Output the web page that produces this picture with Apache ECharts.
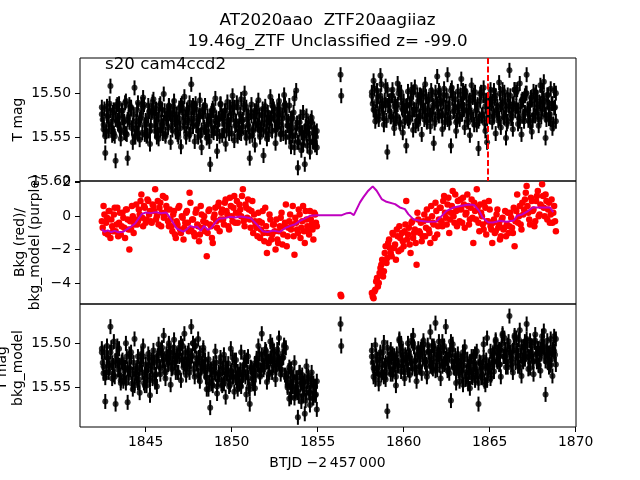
<!DOCTYPE html>
<html><head><meta charset="utf-8">
<script src="https://cdn.jsdelivr.net/npm/echarts@6/dist/echarts.min.js"></script>
<style>html,body{margin:0;padding:0;background:#fff}#c{width:640px;height:480px}</style>
</head><body><div id="c"></div>
<script>
// ---- data ----
const T1 = [1842.45,1842.55,1842.65,1842.75,1842.85,1842.95,1843.05,1843.15,1843.25,1843.35,1843.45,1843.55,1843.65,1843.75,1843.85,1843.95,1844.05,1844.15,1844.25,1844.35,1844.45,1844.55,1844.65,1844.75,1844.85,1844.95,1845.05,1845.15,1845.25,1845.35,1845.45,1845.55,1845.65,1845.75,1845.85,1845.95,1846.05,1846.15,1846.25,1846.35,1846.45,1846.55,1846.65,1846.75,1846.85,1846.95,1847.05,1847.15,1847.25,1847.35,1847.45,1847.55,1847.65,1847.75,1847.85,1847.95,1848.05,1848.15,1848.25,1848.35,1848.45,1848.55,1848.65,1848.75,1848.85,1848.95,1849.05,1849.15,1849.25,1849.35,1849.45,1849.55,1849.65,1849.75,1849.85,1849.95,1850.05,1850.15,1850.25,1850.35,1850.45,1850.55,1850.65,1850.75,1850.85,1850.95,1851.05,1851.15,1851.25,1851.35,1851.45,1851.55,1851.65,1851.75,1851.85,1851.95,1852.05,1852.15,1852.25,1852.35,1852.45,1852.55,1852.65,1852.75,1852.85,1852.95,1853.05,1853.15,1853.25,1853.35,1853.45,1853.55,1853.65,1853.75,1853.85,1853.95,1854.05,1854.15,1854.25,1854.35,1854.45,1854.55,1854.65,1854.75,1854.85,1854.95];
const T1B = [1842.50,1842.60,1842.70,1842.80,1842.90,1843.00,1843.10,1843.20,1843.30,1843.40,1843.50,1843.60,1843.70,1843.80,1843.90,1844.00,1844.10,1844.20,1844.30,1844.40,1844.50,1844.60,1844.70,1844.80,1844.90,1845.00,1845.10,1845.20,1845.30,1845.40,1845.50,1845.60,1845.70,1845.80,1845.90,1846.00,1846.10,1846.20,1846.30,1846.40,1846.50,1846.60,1846.70,1846.80,1846.90,1847.00,1847.10,1847.20,1847.30,1847.40,1847.50,1847.60,1847.70,1847.80,1847.90,1848.00,1848.10,1848.20,1848.30,1848.40,1848.50,1848.60,1848.70,1848.80,1848.90,1849.00,1849.10,1849.20,1849.30,1849.40,1849.50,1849.60,1849.70,1849.80,1849.90,1850.00,1850.10,1850.20,1850.30,1850.40,1850.50,1850.60,1850.70,1850.80,1850.90,1851.00,1851.10,1851.20,1851.30,1851.40,1851.50,1851.60,1851.70,1851.80,1851.90,1852.00,1852.10,1852.20,1852.30,1852.40,1852.50,1852.60,1852.70,1852.80,1852.90,1853.00,1853.10,1853.20,1853.30,1853.40,1853.50,1853.60,1853.70,1853.80,1853.90,1854.00,1854.10,1854.20,1854.30,1854.40,1854.50,1854.60,1854.70,1854.80,1854.90];
const T2 = [1858.15,1858.25,1858.35,1858.45,1858.55,1858.65,1858.75,1858.85,1858.95,1859.05,1859.15,1859.25,1859.35,1859.45,1859.55,1859.65,1859.75,1859.85,1859.95,1860.05,1860.15,1860.25,1860.35,1860.45,1860.55,1860.65,1860.75,1860.85,1860.95,1861.05,1861.15,1861.25,1861.35,1861.45,1861.55,1861.65,1861.75,1861.85,1861.95,1862.05,1862.15,1862.25,1862.35,1862.45,1862.55,1862.65,1862.75,1862.85,1862.95,1863.05,1863.15,1863.25,1863.35,1863.45,1863.55,1863.65,1863.75,1863.85,1863.95,1864.05,1864.15,1864.25,1864.35,1864.45,1864.55,1864.65,1864.75,1864.85,1864.95,1865.05,1865.15,1865.25,1865.35,1865.45,1865.55,1865.65,1865.75,1865.85,1865.95,1866.05,1866.15,1866.25,1866.35,1866.45,1866.55,1866.65,1866.75,1866.85,1866.95,1867.05,1867.15,1867.25,1867.35,1867.45,1867.55,1867.65,1867.75,1867.85,1867.95,1868.05,1868.15,1868.25,1868.35,1868.45,1868.55,1868.65,1868.75,1868.85];
const T2B = [1858.20,1858.30,1858.40,1858.50,1858.60,1858.70,1858.80,1858.90,1859.00,1859.10,1859.20,1859.30,1859.40,1859.50,1859.60,1859.70,1859.80,1859.90,1860.00,1860.10,1860.20,1860.30,1860.40,1860.50,1860.60,1860.70,1860.80,1860.90,1861.00,1861.10,1861.20,1861.30,1861.40,1861.50,1861.60,1861.70,1861.80,1861.90,1862.00,1862.10,1862.20,1862.30,1862.40,1862.50,1862.60,1862.70,1862.80,1862.90,1863.00,1863.10,1863.20,1863.30,1863.40,1863.50,1863.60,1863.70,1863.80,1863.90,1864.00,1864.10,1864.20,1864.30,1864.40,1864.50,1864.60,1864.70,1864.80,1864.90,1865.00,1865.10,1865.20,1865.30,1865.40,1865.50,1865.60,1865.70,1865.80,1865.90,1866.00,1866.10,1866.20,1866.30,1866.40,1866.50,1866.60,1866.70,1866.80,1866.90,1867.00,1867.10,1867.20,1867.30,1867.40,1867.50,1867.60,1867.70,1867.80,1867.90,1868.00,1868.10,1868.20,1868.30,1868.40,1868.50,1868.60,1868.70,1868.80];
const T_ISO = [1856.33, 1856.37];

// T mag (top panel): sets A (T1/T2), B (T1B/T2B), C (second reading at T1/T2)
const MAG1 = [15.524,15.541,15.568,15.515,15.536,15.492,15.548,15.519,15.577,15.531,
15.512,15.552,15.528,15.545,15.509,15.574,15.533,15.518,15.556,15.494,
15.540,15.511,15.553,15.526,15.505,15.547,15.535,15.514,15.558,15.522,
15.507,15.543,15.530,15.552,15.512,15.537,15.501,15.549,15.524,15.515,
15.556,15.528,15.509,15.544,15.533,15.517,15.561,15.522,15.504,15.546,
15.531,15.511,15.490,15.538,15.555,15.519,15.543,15.508,15.562,15.527,
15.514,15.551,15.535,15.581,15.520,15.545,15.506,15.566,15.529,15.512,
15.548,15.536,15.558,15.510,15.540,15.523,15.503,15.554,15.532,15.516,
15.545,15.507,15.538,15.500,15.551,15.526,15.574,15.513,15.541,15.559,
15.521,15.508,15.547,15.534,15.571,15.515,15.552,15.528,15.504,15.543,
15.518,15.557,15.533,15.509,15.546,15.525,15.502,15.550,15.537,15.514,
15.561,15.529,15.506,15.497,15.585,15.541,15.565,15.522,15.581,15.548,
15.535,15.567,15.528,15.556,15.545,15.562];
const MAG1B = [15.530,15.518,15.544,15.526,15.512,15.538,15.522,15.549,15.515,15.535,
15.541,15.520,15.533,15.511,15.547,15.527,15.516,15.540,15.524,15.550,
15.519,15.536,15.528,15.545,15.513,15.531,15.548,15.521,15.537,15.510,
15.526,15.518,15.542,15.514,15.533,15.546,15.520,15.529,15.539,15.523,
15.537,15.515,15.530,15.524,15.550,15.540,15.512,15.533,15.527,15.519,
15.522,15.543,15.517,15.529,15.512,15.535,15.527,15.548,15.521,15.539,
15.544,15.526,15.555,15.532,15.517,15.540,15.528,15.536,15.549,15.523,
15.529,15.520,15.542,15.531,15.516,15.546,15.525,15.537,15.511,15.540,
15.524,15.532,15.517,15.545,15.530,15.538,15.522,15.548,15.527,15.535,
15.536,15.525,15.541,15.518,15.530,15.544,15.522,15.537,15.528,15.515,
15.530,15.541,15.524,15.519,15.536,15.546,15.513,15.528,15.532,15.543,
15.540,15.522,15.548,15.534,15.556,15.527,15.545,15.551,15.538,15.560,
15.546,15.532,15.555,15.541,15.550];
const MAG1C = [15.516,15.536,15.549,15.526,15.543,15.520,15.532,15.546,15.530,15.513,
15.526,15.543,15.520,15.532,15.546,15.530,15.513,15.516,15.536,15.549,
15.532,15.546,15.530,15.513,15.516,15.536,15.549,15.526,15.543,15.520,
15.517,15.537,15.550,15.525,15.542,15.519,15.533,15.547,15.529,15.514,
15.525,15.542,15.519,15.533,15.547,15.529,15.514,15.517,15.537,15.550,
15.533,15.547,15.529,15.514,15.517,15.537,15.550,15.525,15.542,15.519,
15.516,15.536,15.549,15.526,15.543,15.520,15.532,15.546,15.530,15.513,
15.526,15.543,15.520,15.532,15.546,15.530,15.513,15.516,15.536,15.549,
15.532,15.546,15.530,15.513,15.516,15.536,15.549,15.526,15.543,15.520,
15.517,15.537,15.550,15.525,15.542,15.519,15.533,15.547,15.529,15.514,
15.525,15.542,15.519,15.533,15.547,15.529,15.514,15.517,15.537,15.550,
15.529,15.549,15.562,15.539,15.556,15.533,15.545,15.559,15.543,15.526,
15.539,15.556,15.533,15.545,15.559,15.543];
const MAG2 = [15.503,15.486,15.521,15.497,15.530,15.480,15.512,15.536,15.492,15.567,
15.509,15.527,15.496,15.540,15.515,15.489,15.533,15.505,15.545,15.520,
15.560,15.498,15.528,15.511,15.542,15.493,15.519,15.535,15.502,15.547,
15.514,15.490,15.531,15.507,15.538,15.524,15.557,15.499,15.481,15.526,
15.512,15.541,15.495,15.522,15.479,15.534,15.560,15.506,15.517,15.543,
15.498,15.527,15.484,15.513,15.539,15.503,15.521,15.548,15.491,15.530,
15.510,15.536,15.563,15.501,15.525,15.494,15.543,15.556,15.516,15.507,
15.533,15.497,15.546,15.520,15.488,15.539,15.511,15.528,15.551,15.502,
15.474,15.524,15.541,15.496,15.515,15.535,15.489,15.547,15.508,15.522,
15.479,15.531,15.512,15.544,15.498,15.526,15.505,15.537,15.491,15.518,
15.487,15.551,15.510,15.529,15.495,15.540,15.517,15.532];
const MAG2B = [15.512,15.495,15.527,15.504,15.518,15.490,15.523,15.508,15.531,15.514,
15.521,15.503,15.530,15.512,15.526,15.500,15.535,15.517,15.509,15.528,
15.514,15.532,15.506,15.524,15.519,15.537,15.502,15.527,15.511,15.521,
15.530,15.504,15.518,15.525,15.497,15.514,15.534,15.509,15.522,15.500,
15.526,15.510,15.533,15.503,15.517,15.528,15.494,15.521,15.507,15.531,
15.515,15.502,15.524,15.519,15.498,15.530,15.511,15.522,15.505,15.536,
15.520,15.513,15.529,15.499,15.524,15.534,15.508,15.518,15.527,15.512,
15.523,15.506,15.519,15.531,15.500,15.516,15.527,15.509,15.535,15.514,
15.503,15.526,15.512,15.520,15.496,15.529,15.515,15.507,15.532,15.500,
15.518,15.525,15.505,15.531,15.513,15.499,15.522,15.510,15.527,15.506,
15.519,15.530,15.502,15.524,15.512,15.535,15.516];
const MAG2C = [15.499,15.519,15.532,15.509,15.526,15.503,15.515,15.529,15.513,15.496,
15.509,15.526,15.503,15.515,15.529,15.513,15.496,15.499,15.519,15.532,
15.515,15.529,15.513,15.496,15.499,15.519,15.532,15.509,15.526,15.503,
15.500,15.520,15.533,15.508,15.525,15.502,15.516,15.530,15.512,15.497,
15.508,15.525,15.502,15.516,15.530,15.512,15.497,15.500,15.520,15.533,
15.516,15.530,15.512,15.497,15.500,15.520,15.533,15.508,15.525,15.502,
15.499,15.519,15.532,15.509,15.526,15.503,15.515,15.529,15.513,15.496,
15.509,15.526,15.503,15.515,15.529,15.513,15.496,15.499,15.519,15.532,
15.515,15.529,15.513,15.496,15.499,15.519,15.532,15.509,15.526,15.503,
15.500,15.520,15.533,15.508,15.525,15.502,15.516,15.530,15.512,15.497,
15.508,15.525,15.502,15.516,15.530,15.512,15.497,15.500];
const MAG_ISO = [15.479, 15.503];

// Bkg (red), middle panel
const BKG1 = [-0.3,0.6,-1.0,-0.1,0.3,-1.3,-0.6,0.1,-0.9,0.5,
-0.4,-1.1,0.2,-0.7,0.4,-0.2,-2.0,-0.8,0.0,-0.5,
0.7,-0.3,0.1,1.3,-0.6,0.5,-0.2,0.9,0.3,-0.4,
0.6,1.6,0.0,-0.5,0.8,0.2,-0.1,1.1,0.4,-0.6,
-0.2,-0.9,0.3,-1.3,-0.5,0.6,-1.0,-0.1,-0.7,0.2,
-0.4,1.4,-0.8,-0.2,-1.2,0.4,-0.6,-1.1,0.1,-0.3,
-0.9,-2.4,0.3,-0.5,-1.3,-0.1,0.5,-0.7,0.8,-0.2,
0.4,-0.5,1.0,0.1,-0.8,0.6,-0.3,1.2,0.2,-0.4,
0.7,0.0,1.6,-0.6,0.5,1.0,-0.2,0.3,-1.0,-0.3,
-0.7,0.2,-1.3,-0.4,-1.0,0.5,-2.2,-1.6,-0.2,-1.1,
-0.5,-2.0,-1.4,-0.9,-0.1,-1.7,-0.6,0.7,-1.2,-0.3,
-0.8,0.6,-2.3,-0.4,-1.0,0.1,-0.7,0.6,-1.6,-0.2,
-0.9,0.3,-0.5,-1.4,0.1,-0.6];
const BKG1B = [-0.7,0.1,-0.4,-1.1,0.3,-0.2,-0.9,0.5,-0.5,-1.2,
0.2,-0.6,-0.1,-1.3,0.4,-0.8,-0.3,0.6,-1.0,-0.2,
-0.5,0.4,0.9,-0.1,0.6,-0.4,1.0,0.1,-0.3,0.7,
0.3,-0.2,0.9,0.5,-0.6,1.2,0.0,0.6,-0.3,0.4,
-0.6,0.1,-1.1,-0.3,0.5,-0.8,0.0,-1.4,-0.4,0.3,
-0.9,0.8,-0.2,-1.0,0.2,-0.5,-1.5,0.6,-0.7,0.0,
-0.4,-1.0,0.4,-0.6,-1.6,0.1,-0.3,0.6,-0.9,0.2,
-0.2,0.8,0.3,-0.6,1.1,0.0,0.5,-0.4,0.9,0.2,
0.4,1.2,-0.3,0.7,-0.1,0.4,-0.7,0.9,0.1,-0.5,
-1.2,-0.3,-0.8,0.3,-1.5,-0.6,-1.0,0.1,-1.4,-0.5,
-0.9,-0.2,-1.6,-0.6,0.2,-1.1,-0.4,-1.8,-0.7,0.1,
-0.5,-1.2,-0.1,-0.8,0.4,-1.3,-0.3,-0.9,0.3,-0.6,
-1.1,-0.2,-0.8,0.2,-0.4];
const BKG2 = [-4.6,-4.9,-4.4,-3.7,-4.0,-3.1,-2.6,-3.3,-1.8,-2.5,
-1.4,-2.2,-1.0,-1.9,-2.6,-1.2,-0.6,-2.0,-1.5,-0.9,
0.9,-1.1,-1.7,-0.4,-1.3,-0.8,-2.9,-0.2,-1.0,-1.5,
-0.3,-1.2,0.4,-0.8,-1.6,0.0,-0.5,0.8,-1.1,-0.2,
0.5,-0.6,1.2,-0.1,0.7,-1.0,0.2,1.5,-0.4,0.3,
0.9,-0.3,0.4,1.1,-0.7,0.2,0.6,-0.2,1.0,-1.6,
0.3,1.6,-0.4,0.7,0.0,-0.8,0.5,-0.3,0.9,-0.6,
-1.6,-0.2,-0.9,0.4,-0.5,-1.2,-0.1,-0.7,-1.2,0.2,
-0.6,-0.1,-1.0,-1.8,0.3,-0.4,0.6,-0.8,0.1,1.0,
1.8,0.2,-0.5,0.9,0.4,-0.3,1.2,0.0,0.7,1.9,
0.5,1.3,-0.2,0.8,0.1,-0.4,0.6,-0.9];
const BKG2B = [-4.8,-4.5,-3.9,-4.2,-3.4,-2.9,-3.6,-2.2,-2.8,-1.6,
-1.9,-2.4,-1.1,-1.7,-0.8,-2.1,-1.3,-1.0,-1.8,-0.5,
-1.4,-0.7,-2.2,-0.3,-1.0,-1.6,0.2,-0.9,-0.4,-1.2,
0.1,-0.7,-0.2,-1.0,0.6,-0.4,-1.3,0.3,-0.6,0.5,
-0.3,0.9,0.2,-0.5,1.1,-0.2,0.6,0.0,1.3,-0.6,
0.4,1.0,-0.4,0.7,0.1,1.3,-0.5,0.5,-0.1,0.8,
-0.2,0.5,-0.9,0.2,-0.5,0.8,-1.1,-0.3,0.4,-0.8,
-0.4,-1.0,0.1,-0.7,-1.4,-0.2,-0.8,0.3,-0.5,-1.0,
0.2,-0.7,0.5,-0.3,1.3,0.0,-0.5,0.8,0.4,1.4,
0.6,-0.2,1.1,0.3,-0.6,0.9,1.5,0.1,0.6,1.2,
0.0,0.9,0.4,-0.4,1.0,0.2,-0.3];
const BKG_ISO = [-4.70, -4.78];

// bkg_model (purple line)
const MODEL_T = [1842.45,1842.6,1842.8,1843.0,1843.2,1843.4,1843.7,1844.1,1844.4,1844.77,1845.0,1845.3,1845.6,1845.9,1846.2,1846.4,1846.8,1847.19,1847.4,1847.58,1847.8,1848.0,1848.2,1848.4,1848.6,1848.8,1849.13,1849.3,1849.6,1849.9,1850.2,1850.5,1850.8,1851.1,1851.45,1851.8,1852.1,1852.4,1852.8,1853.1,1853.4,1853.7,1853.97,1854.3,1854.55,1855.0,1856.4,1856.7,1856.9,1857.1,1857.27,1857.46,1857.65,1857.94,1858.2,1858.43,1858.72,1859.0,1859.5,1859.78,1860.07,1860.27,1860.56,1860.95,1861.4,1861.9,1862.2,1862.5,1862.9,1863.3,1863.8,1864.1,1864.4,1864.6,1864.9,1865.2,1865.6,1866.0,1866.4,1866.6,1866.9,1867.2,1867.5,1868.0,1868.5,1868.7];
const MODEL_V = [-0.78,-0.93,-0.85,-0.95,-0.88,-0.96,-0.93,-0.66,-0.42,0.12,0.22,0.18,0.24,0.17,0.22,-0.08,-0.74,-0.92,-0.78,-0.58,-0.66,-0.62,-0.88,-0.58,-0.82,-0.72,-0.28,-0.14,-0.12,-0.04,-0.08,-0.02,-0.06,-0.12,-0.48,-0.90,-0.95,-0.86,-0.94,-0.72,-0.58,-0.48,-0.28,-0.12,0.02,0.06,0.06,0.18,0.20,0.06,0.42,0.82,1.12,1.52,1.78,1.52,1.02,0.86,0.72,0.52,0.42,0.12,-0.18,-0.27,-0.34,-0.32,0.0,0.32,0.52,0.60,0.70,0.66,0.30,-0.10,-0.36,-0.38,-0.28,-0.34,-0.26,0.02,0.10,0.28,0.52,0.52,0.52,0.24];

// T mag - bkg_model (bottom panel)
const DET1 = [15.510,15.534,15.566,15.503,15.525,15.481,15.540,15.498,15.569,15.519,
15.506,15.545,15.522,15.538,15.500,15.567,15.528,15.510,15.552,15.495,
15.537,15.515,15.556,15.524,15.503,15.548,15.531,15.512,15.559,15.526,
15.508,15.544,15.520,15.501,15.535,15.511,15.491,15.540,15.516,15.503,
15.547,15.522,15.496,15.533,15.514,15.505,15.542,15.519,15.489,15.530,
15.511,15.526,15.481,15.500,15.538,15.517,15.495,15.543,15.523,15.508,
15.531,15.552,15.518,15.573,15.540,15.526,15.509,15.557,15.535,15.521,
15.548,15.513,15.561,15.530,15.544,15.506,15.538,15.555,15.519,15.532,
15.546,15.510,15.536,15.524,15.558,15.515,15.569,15.528,15.541,15.551,
15.517,15.503,15.536,15.489,15.525,15.511,15.544,15.520,15.498,15.533,
15.509,15.541,15.519,15.494,15.530,15.515,15.504,15.539,15.548,15.527,
15.561,15.539,15.522,15.552,15.584,15.533,15.566,15.545,15.580,15.556,
15.537,15.570,15.541,15.562,15.549,15.575];
const DET1B = [15.522,15.510,15.533,15.517,15.528,15.505,15.525,15.538,15.514,15.530,
15.536,15.521,15.543,15.527,15.515,15.539,15.530,15.546,15.522,15.534,
15.527,15.541,15.519,15.533,15.545,15.524,15.537,15.516,15.530,15.540,
15.522,15.535,15.514,15.526,15.508,15.520,15.531,15.512,15.524,15.517,
15.529,15.510,15.522,15.515,15.533,15.506,15.519,15.527,15.511,15.523,
15.508,15.520,15.514,15.529,15.503,15.524,15.516,15.532,15.521,15.527,
15.538,15.526,15.544,15.530,15.548,15.533,15.522,15.541,15.535,15.546,
15.528,15.540,15.534,15.523,15.547,15.531,15.538,15.526,15.543,15.536,
15.530,15.542,15.525,15.538,15.533,15.549,15.527,15.540,15.531,15.536,
15.524,15.512,15.530,15.518,15.527,15.509,15.521,15.533,15.515,15.525,
15.518,15.528,15.511,15.523,15.530,15.516,15.536,15.540,15.531,15.545,
15.549,15.538,15.555,15.543,15.560,15.547,15.536,15.552,15.565,15.544,
15.556,15.548,15.562,15.551,15.558];
const DET1C = [15.506,15.526,15.539,15.516,15.533,15.510,15.522,15.536,15.520,15.503,
15.525,15.542,15.519,15.531,15.545,15.529,15.512,15.515,15.535,15.548,
15.531,15.545,15.529,15.512,15.515,15.535,15.548,15.525,15.542,15.519,
15.516,15.536,15.549,15.511,15.528,15.505,15.519,15.533,15.515,15.500,
15.511,15.528,15.505,15.519,15.533,15.515,15.500,15.503,15.523,15.536,
15.519,15.533,15.515,15.500,15.503,15.523,15.536,15.511,15.528,15.505,
15.519,15.539,15.552,15.529,15.546,15.523,15.535,15.549,15.533,15.516,
15.529,15.546,15.523,15.535,15.549,15.533,15.516,15.519,15.539,15.552,
15.535,15.549,15.533,15.516,15.519,15.539,15.552,15.529,15.546,15.523,
15.520,15.525,15.538,15.513,15.530,15.507,15.521,15.535,15.517,15.502,
15.513,15.530,15.507,15.521,15.535,15.517,15.502,15.505,15.550,15.563,
15.529,15.549,15.562,15.539,15.556,15.533,15.545,15.559,15.543,15.526,
15.539,15.556,15.533,15.545,15.559,15.543];
const DET2 = [15.515,15.538,15.502,15.529,15.546,15.510,15.533,15.499,15.541,15.577,
15.521,15.507,15.535,15.514,15.548,15.526,15.495,15.532,15.509,15.540,
15.518,15.500,15.536,15.523,15.491,15.529,15.543,15.506,15.515,15.534,
15.497,15.521,15.538,15.510,15.487,15.527,15.503,15.477,15.530,15.513,
15.540,15.498,15.524,15.481,15.519,15.534,15.565,15.507,15.528,15.545,
15.512,15.533,15.520,15.547,15.504,15.538,15.526,15.551,15.515,15.530,
15.542,15.509,15.569,15.523,15.536,15.501,15.547,15.494,15.528,15.540,
15.514,15.532,15.496,15.521,15.507,15.538,15.489,15.515,15.527,15.502,
15.469,15.519,15.533,15.493,15.511,15.526,15.485,15.537,15.504,15.518,
15.478,15.529,15.497,15.512,15.535,15.490,15.521,15.506,15.531,15.498,
15.486,15.558,15.513,15.527,15.495,15.537,15.509,15.524];
const DET2B = [15.522,15.531,15.514,15.527,15.519,15.536,15.510,15.525,15.533,15.518,
15.528,15.516,15.530,15.521,15.512,15.525,15.508,15.519,15.527,15.513,
15.522,15.509,15.517,15.528,15.504,15.520,15.513,15.526,15.507,15.518,
15.511,15.524,15.502,15.519,15.515,15.529,15.506,15.521,15.510,15.525,
15.517,15.505,15.522,15.513,15.530,15.508,15.520,15.527,15.514,15.523,
15.531,15.520,15.536,15.525,15.541,15.518,15.533,15.527,15.539,15.522,
15.529,15.538,15.521,15.534,15.526,15.543,15.519,15.531,15.524,15.536,
15.512,15.504,15.519,15.509,15.524,15.501,15.515,15.507,15.521,15.498,
15.510,15.517,15.503,15.522,15.508,15.496,15.514,15.519,15.505,15.512,
15.502,15.516,15.509,15.521,15.499,15.513,15.506,15.518,15.511,15.504,
15.515,15.508,15.522,15.511,15.518,15.505,15.513];
const DET2C = [15.508,15.528,15.541,15.518,15.535,15.512,15.524,15.538,15.522,15.505,
15.518,15.535,15.512,15.524,15.538,15.522,15.497,15.500,15.520,15.533,
15.516,15.530,15.514,15.497,15.500,15.520,15.533,15.510,15.527,15.504,
15.501,15.521,15.534,15.509,15.526,15.503,15.517,15.531,15.513,15.498,
15.509,15.526,15.503,15.517,15.531,15.513,15.498,15.501,15.521,15.534,
15.517,15.543,15.525,15.510,15.513,15.533,15.546,15.521,15.538,15.515,
15.512,15.532,15.545,15.522,15.539,15.516,15.528,15.542,15.526,15.509,
15.522,15.521,15.498,15.510,15.524,15.508,15.491,15.494,15.514,15.527,
15.510,15.524,15.508,15.491,15.494,15.514,15.527,15.504,15.521,15.498,
15.495,15.515,15.528,15.503,15.520,15.497,15.511,15.525,15.507,15.492,
15.503,15.520,15.497,15.511,15.525,15.507,15.492,15.495];
const DET_ISO = [15.478, 15.503];

const MAG_ERR = 0.0085;
const VLINE_T = 1864.88;
const X_TICKS = [1845, 1850, 1855, 1860, 1865, 1870];
const Y1_TICKS = [15.50, 15.55, 15.60];
const Y2_TICKS = [2, 0, -2, -4];
const Y3_TICKS = [15.50, 15.55];

// ---- build ----
const tMag = T1.concat(T1B, T1, T_ISO, T2, T2B, T2);
const magAll = MAG1.concat(MAG1B, MAG1C, MAG_ISO, MAG2, MAG2B, MAG2C);
const detAll = DET1.concat(DET1B, DET1C, DET_ISO, DET2, DET2B, DET2C);
const tBkg = T1.concat(T1B, T_ISO, T2, T2B);
const bkgAll = BKG1.concat(BKG1B, BKG_ISO, BKG2, BKG2B);
const magPts = tMag.map((t, i) => [t, magAll[i], MAG_ERR]);
const detPts = tMag.map((t, i) => [t, detAll[i], MAG_ERR]);
const bkgPts = tBkg.map((t, i) => [t, bkgAll[i]]);
const modelPts = MODEL_T.map((t, i) => [t, MODEL_V[i]]);

const FONT = 'DejaVu Sans';
const TICK_FS = 13.9;

function errRender(params, api) {
  const x = api.value(0), y = api.value(1), e = api.value(2);
  const a = api.coord([x, y - e]), b = api.coord([x, y + e]);
  return { type: 'line', shape: { x1: a[0], y1: a[1], x2: b[0], y2: b[1] },
    style: { stroke: '#000', lineWidth: 2 } };
}

const gridBase = { show: true, borderColor: '#000', borderWidth: 1, backgroundColor: 'transparent' };
const grids = [
  Object.assign({ left: 80, top: 58, width: 496, height: 123 }, gridBase),
  Object.assign({ left: 80, top: 181, width: 496, height: 123 }, gridBase),
  Object.assign({ left: 80, top: 304, width: 496, height: 123 }, gridBase)
];

const xAxes = [0, 1, 2].map(i => ({
  type: 'value', gridIndex: i, min: 1841.18, max: 1870.02,
  axisLine: { show: false }, splitLine: { show: false },
  axisTick: { show: i === 2, customValues: X_TICKS, length: 5, lineStyle: { color: '#000', width: 1 } },
  axisLabel: { show: i === 2, customValues: X_TICKS, margin: 8, color: '#000', fontSize: TICK_FS, fontFamily: FONT,
    formatter: v => String(Math.round(v)) }
}));

function yAx(i, min, max, inv, ticks, fmt) {
  return {
    type: 'value', gridIndex: i, min: min, max: max, inverse: inv,
    axisLine: { show: false }, splitLine: { show: false },
    axisTick: { show: true, customValues: ticks, length: 5, lineStyle: { color: '#000', width: 1 } },
    axisLabel: { show: true, customValues: ticks, margin: 9, color: '#000', fontSize: TICK_FS, fontFamily: FONT, formatter: fmt }
  };
}
const yAxes = [
  yAx(0, 15.46, 15.60, true, Y1_TICKS, v => v.toFixed(2)),
  yAx(1, -5.25, 2.1, false, Y2_TICKS, v => (v < 0 ? '\u2212' : '') + Math.abs(Math.round(v))),
  yAx(2, 15.4553, 15.595, true, Y3_TICKS, v => v.toFixed(2))
];

function txt(x, y, s, fs, rot) {
  return { type: 'text', x: x, y: y, rotation: rot || 0, silent: true,
    style: { text: s, fill: '#000', fontSize: fs, fontFamily: FONT, align: 'center', verticalAlign: 'middle' } };
}

const option = {
  animation: false,
  backgroundColor: '#fff',
  grid: grids,
  xAxis: xAxes,
  yAxis: yAxes,
  graphic: [
    txt(327.5, 21, 'AT2020aao  ZTF20aagiiaz', 16.7),
    txt(327.5, 42, '19.46g_ZTF Unclassified z= -99.0', 16.7),
    { type: 'text', x: 105, y: 64.5, silent: true, z: 100,
      style: { text: 's20 cam4ccd2', fill: '#000', fontSize: 16.7, fontFamily: FONT, align: 'left', verticalAlign: 'middle' } },
    txt(18.5, 119.5, 'T mag', TICK_FS, Math.PI / 2),
    txt(20, 242.5, 'Bkg (red)/', TICK_FS, Math.PI / 2),
    txt(35.5, 242.5, 'bkg_model (purple)', TICK_FS, Math.PI / 2),
    txt(2.5, 368, 'T mag', TICK_FS, Math.PI / 2),
    txt(18, 368, 'bkg_model', TICK_FS, Math.PI / 2),
    txt(327.5, 463, 'BTJD \u22122\u2009457\u2009000', TICK_FS)
  ],
  series: [
    { type: 'custom', xAxisIndex: 0, yAxisIndex: 0, renderItem: errRender, data: magPts, silent: true, clip: true },
    { type: 'scatter', xAxisIndex: 0, yAxisIndex: 0, data: magPts, symbolSize: 6, itemStyle: { color: '#000' }, silent: true,
      markLine: { silent: true, symbol: ['none', 'none'], label: { show: false },
        lineStyle: { color: '#ff0000', type: [6, 2.5], width: 2 }, data: [{ xAxis: VLINE_T }] } },
    { type: 'scatter', xAxisIndex: 1, yAxisIndex: 1, data: bkgPts, symbolSize: 6.5, itemStyle: { color: '#ff0000', opacity: 1 }, silent: true },
    { type: 'line', xAxisIndex: 1, yAxisIndex: 1, data: modelPts, showSymbol: false, silent: true,
      lineStyle: { color: '#bf00bf', width: 2 } },
    { type: 'custom', xAxisIndex: 2, yAxisIndex: 2, renderItem: errRender, data: detPts, silent: true, clip: true },
    { type: 'scatter', xAxisIndex: 2, yAxisIndex: 2, data: detPts, symbolSize: 6, itemStyle: { color: '#000' }, silent: true }
  ]
};
const chart = echarts.init(document.getElementById('c'), null, { renderer: 'canvas', width: 640, height: 480 });
chart.setOption(option);
</script>
</body></html>
